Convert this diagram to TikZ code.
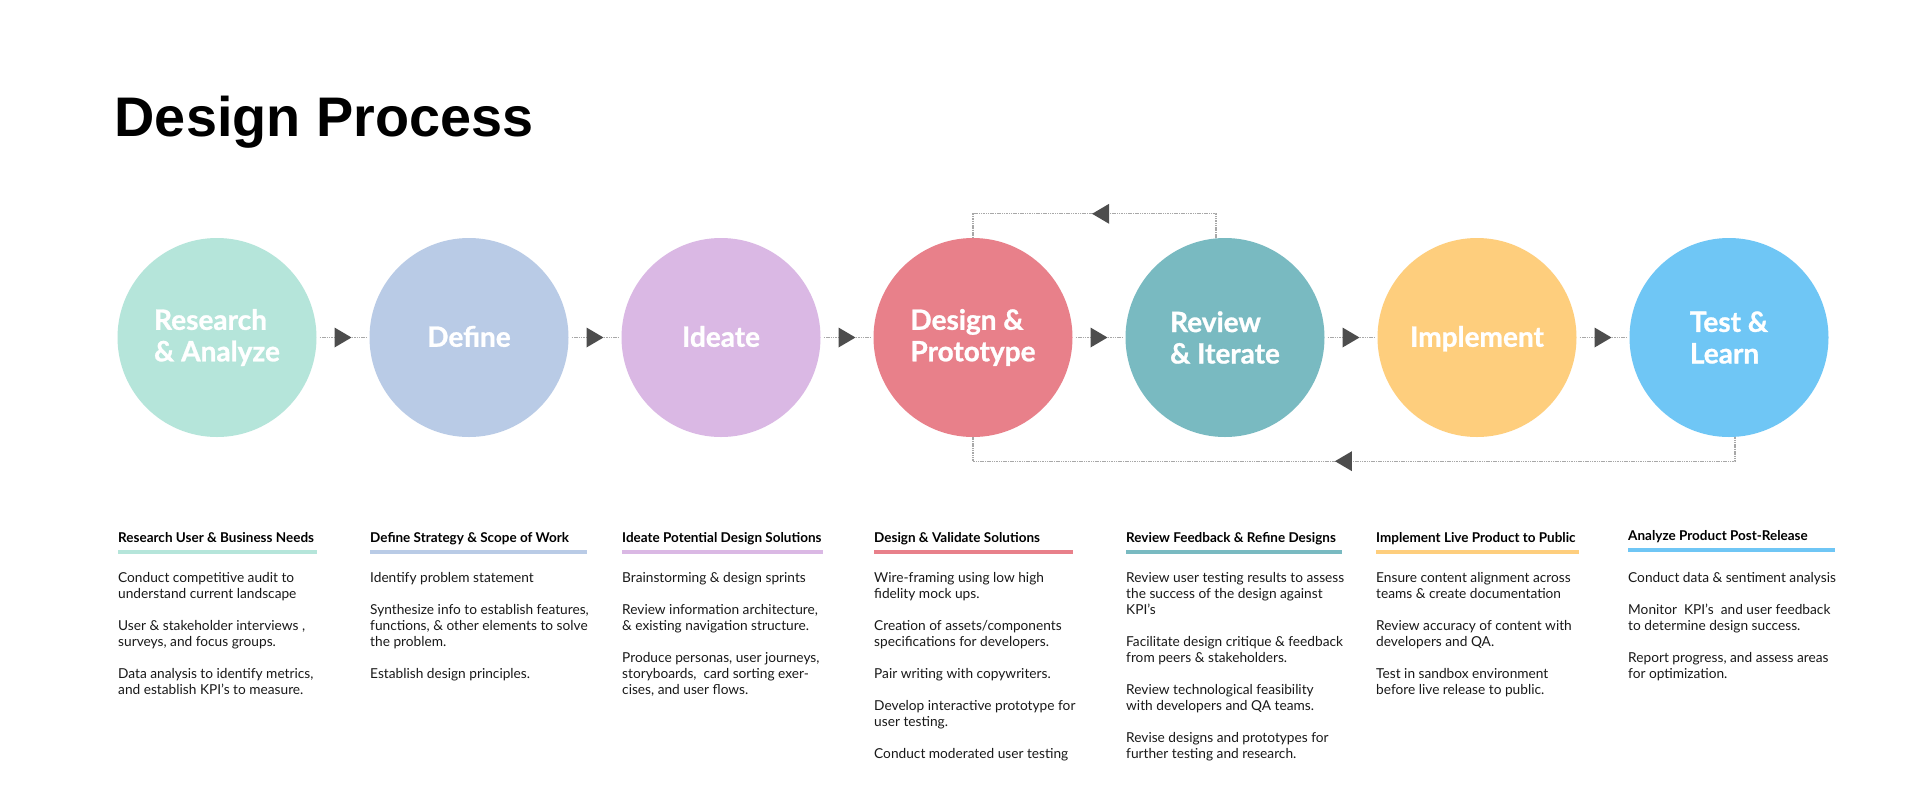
\documentclass[tikz,border=0pt]{standalone}
\usepackage{fontspec}
\setmainfont{Lato}
\newfontfamily\titlefont{Liberation Sans}
\newfontfamily\heavyfont{Lato}[BoldFeatures={FakeBold=1}]
\usetikzlibrary{decorations.markings}
\definecolor{cresearch}{HTML}{B5E5DA}
\definecolor{cdefine}{HTML}{B9CBE6}
\definecolor{cideate}{HTML}{DAB8E4}
\definecolor{cdesign}{HTML}{E8808A}
\definecolor{creview}{HTML}{79BAC1}
\definecolor{cimplement}{HTML}{FECE7D}
\definecolor{ctest}{HTML}{6FC6F5}
\definecolor{arrowgray}{HTML}{4D4D4D}
\definecolor{dotgray}{HTML}{A8A8A8}
\begin{document}
\begin{tikzpicture}[x=1pt, y=-1pt,
  stage/.style={circle, minimum size=199pt, inner sep=0pt, align=left, text=white, font=\heavyfont\fontsize{28}{31.5}\selectfont\bfseries},
  oneline/.style={text height=18.5pt, text depth=0pt},
  heading/.style={anchor=base west, inner sep=0pt, font=\fontsize{13.5}{16}\selectfont\bfseries},
  body/.style={anchor=north west, inner sep=0pt, align=left, text=black!90, font=\fontsize{13.7}{16}\selectfont, execute at begin node=\strut},
  midtip/.style={postaction={decorate}, decoration={markings, mark=at position #1 with {\fill[arrowgray] (8.5pt,0pt) -- (-8.5pt,10pt) -- (-8.5pt,-10pt) -- cycle;}}},
  midtip/.default=0.5,
  flow/.style={dotgray, line width=1.3pt, dash pattern=on 1.5pt off 0.8pt, shorten <=3pt, shorten >=3pt, midtip},
  backflow/.style={dotgray, line width=1.1pt, dash pattern=on 1.5pt off 0.8pt, midtip=#1}]
\fill[white] (0,0) rectangle (1920,804);
\useasboundingbox (0,0) rectangle (1920,804);
\node[anchor=base west, inner sep=0pt, font=\titlefont\fontsize{55.8}{60}\selectfont\bfseries] (title) at (114.5,136) {Design Process};
\node[stage, fill=cresearch] (a) at (217,337.5) {Research\\\& Analyze};
\node[stage, oneline, fill=cdefine] (b) at (469,337.5) {Define};
\node[stage, oneline, fill=cideate] (c) at (721,337.5) {Ideate};
\node[stage, fill=cdesign] (d) at (973,337.5) {Design \&\\Prototype};
\node[stage, fill=creview] (e) at (1225,337.5) {Review\\\& Iterate};
\node[stage, oneline, fill=cimplement] (f) at (1477,337.5) {Implement};
\node[stage, fill=ctest] (g) at (1729,337.5) {Test \&\\Learn};
\draw[flow] (a) -- (b);
\draw[flow] (b) -- (c);
\draw[flow] (c) -- (d);
\draw[flow] (d) -- (e);
\draw[flow] (e) -- (f);
\draw[flow] (f) -- (g);
\draw[backflow=0.479] ([xshift=-9pt]e.north) -- ++(0,-24) -| (d.north);
\draw[backflow=0.513] ([xshift=6pt]g.south) -- ++(0,24) -| (d.south);
\fill[cresearch] (118,550) rectangle (317,554);
\fill[cdefine] (370,550) rectangle (587,554);
\fill[cideate] (622,550) rectangle (823,554);
\fill[cdesign] (874,550) rectangle (1073,554);
\fill[creview] (1126,550) rectangle (1342,554);
\fill[cimplement] (1376,550) rectangle (1579,554);
\fill[ctest] (1628,548) rectangle (1835,552);
\node[heading] (ha) at (118,542.5) {Research User \& Business Needs};
\node[heading] (hb) at (370,542.5) {Define Strategy \& Scope of Work};
\node[heading] (hc) at (622,542.5) {Ideate Potential Design Solutions};
\node[heading] (hd) at (874,542.5) {Design \& Validate Solutions};
\node[heading] (he) at (1126,542.5) {Review Feedback \& Refine Designs};
\node[heading] (hf) at (1376,542.5) {Implement Live Product to Public};
\node[heading] (hg) at (1628,540) {Analyze Product Post-Release};
\node[body] (ta) at (118,572.3) {Conduct competitive audit to\\understand current landscape\\[16pt]User \& stakeholder interviews ,\\surveys, and focus groups.\\[16pt]Data analysis to identify metrics,\\and establish KPI’s to measure.};
\node[body] (tb) at (370,572.3) {Identify problem statement\\[16pt]Synthesize info to establish features,\\functions, \& other elements to solve\\the problem.\\[16pt]Establish design principles.};
\node[body] (tc) at (622,572.3) {Brainstorming \& design sprints\\[16pt]Review information architecture,\\\& existing navigation structure.\\[16pt]Produce personas, user journeys,\\storyboards,~ card sorting exer-\\cises, and user flows.};
\node[body] (td) at (874,572.3) {Wire-framing using low high\\fidelity mock ups.\\[16pt]Creation of assets/components\\specifications for developers.\\[16pt]Pair writing with copywriters.\\[16pt]Develop interactive prototype for\\user testing.\\[16pt]Conduct moderated user testing};
\node[body] (te) at (1126,572.3) {Review user testing results to assess\\the success of the design against\\KPI’s\\[16pt]Facilitate design critique \& feedback\\from peers \& stakeholders.\\[16pt]Review technological feasibility\\with developers and QA teams.\\[16pt]Revise designs and prototypes for\\further testing and research.};
\node[body] (tf) at (1376,572.3) {Ensure content alignment across\\teams \& create documentation\\[16pt]Review accuracy of content with\\developers and QA.\\[16pt]Test in sandbox environment\\before live release to public.};
\node[body] (tg) at (1628,572.3) {Conduct data \& sentiment analysis\\[16pt]Monitor~ KPI’s~ and user feedback\\to determine design success.\\[16pt]Report progress, and assess areas\\for optimization.};
\end{tikzpicture}
\end{document}
